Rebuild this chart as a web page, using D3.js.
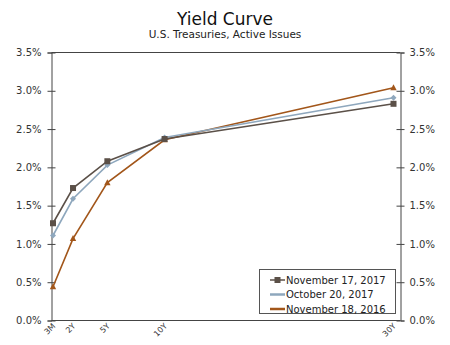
<!DOCTYPE html>
<html>
<head>
<meta charset="utf-8">
<script src="https://cdn.jsdelivr.net/npm/d3@7"></script>
<style>
  html, body { margin: 0; padding: 0; background: #fff; }
  svg { display: block; font-family: Verdana, "DejaVu Sans", sans-serif; }
</style>
</head>
<body>
<svg id="chart" width="450" height="345"></svg>
<script>
// Maturities (years) and their labels
const maturities = [0.25, 2, 5, 10, 30];
const maturityLabels = ["3M", "2Y", "5Y", "10Y", "30Y"];

// Yields in percent
const nov17_2017 = [1.27, 1.73, 2.08, 2.37, 2.83];
const oct20_2017 = [1.11, 1.59, 2.03, 2.39, 2.91];
const nov18_2016 = [0.44, 1.07, 1.80, 2.36, 3.04];

const yTicks = [0, 0.5, 1.0, 1.5, 2.0, 2.5, 3.0, 3.5];

const seriesNames = ["November 17, 2017", "October 20, 2017", "November 18, 2016"];
const seriesColors = ["#5b5048", "#8ea7bd", "#a2561a"];
const seriesMarkers = ["square", "diamond", "triangle"];
const seriesValues = [nov17_2017, oct20_2017, nov18_2016];

const svg = d3.select("#chart");

const frame = { left: 51.5, right: 400.5, top: 52.5, bottom: 320.5 };

const x = d3.scaleLinear().domain([0.25, 30]).range([53, 393.5]);
const y = d3.scaleLinear().domain([0, 3.5]).range([frame.bottom, frame.top]);

// Titles
svg.append("text").attr("x", 225).attr("y", 25).attr("text-anchor", "middle")
  .attr("font-size", 17).attr("fill", "#111").text("Yield Curve");
svg.append("text").attr("x", 225).attr("y", 37.5).attr("text-anchor", "middle")
  .attr("font-size", 10.5).attr("fill", "#222").text("U.S. Treasuries, Active Issues");

// Frame
const axisColor = "#444";
svg.append("line").attr("x1", frame.left).attr("x2", frame.right)
  .attr("y1", frame.top).attr("y2", frame.top).attr("stroke", axisColor);
svg.append("line").attr("x1", frame.left).attr("x2", frame.right)
  .attr("y1", frame.bottom).attr("y2", frame.bottom).attr("stroke", axisColor);

// Left and right y axes
const fmt = d => d.toFixed(1) + "%";
const leftAxis = d3.axisLeft(y).tickValues(yTicks).tickFormat(fmt).tickSize(4).tickPadding(6);
const rightAxis = d3.axisRight(y).tickValues(yTicks).tickFormat(fmt).tickSize(4).tickPadding(6);

function styleAxis(g) {
  g.select(".domain").attr("stroke", axisColor);
  g.selectAll(".tick line").attr("stroke", axisColor).attr("x1", -4).attr("x2", 4);
  g.selectAll(".tick text").attr("fill", "#333").attr("font-size", 10)
    .attr("font-family", "Verdana, 'DejaVu Sans', sans-serif");
}
svg.append("g").attr("transform", `translate(${frame.left},0)`).call(leftAxis)
  .call(styleAxis);
svg.append("g").attr("transform", `translate(${frame.right},0)`).call(rightAxis)
  .call(styleAxis)
  .call(g => g.selectAll(".tick text").attr("x", 9));

// Bottom maturity labels, rotated
const bottom = svg.append("g");
maturities.forEach((m, i) => {
  const px = x(m) + 3;
  bottom.append("text")
    .attr("transform", `translate(${px},${frame.bottom + 6}) rotate(-45)`)
    .attr("text-anchor", "end")
    .attr("font-size", 8)
    .attr("fill", "#333")
    .text(maturityLabels[i]);
});

// Marker drawing
function marker(g, type, color, cx, cy) {
  if (type === "square") {
    g.append("rect").attr("x", cx - 3).attr("y", cy - 3).attr("width", 6).attr("height", 6).attr("fill", color);
  } else if (type === "diamond") {
    g.append("path").attr("d", `M${cx},${cy - 3}L${cx + 3},${cy}L${cx},${cy + 3}L${cx - 3},${cy}Z`).attr("fill", color);
  } else {
    g.append("path").attr("d", `M${cx},${cy - 3.5}L${cx + 3.2},${cy + 2.5}L${cx - 3.2},${cy + 2.5}Z`).attr("fill", color);
  }
}

const line = d3.line().x(d => x(d[0])).y(d => y(d[1]));

// Draw series (oldest first so newer lines sit on top)
[2, 1, 0].forEach(s => {
  const pts = maturities.map((m, i) => [m, seriesValues[s][i]]);
  const g = svg.append("g");
  g.append("path").datum(pts).attr("d", line).attr("fill", "none")
    .attr("stroke", seriesColors[s]).attr("stroke-width", 1.6);
  pts.forEach(p => marker(g, seriesMarkers[s], seriesColors[s], x(p[0]), y(p[1])));
});

// Legend
const lg = svg.append("g");
lg.append("rect").attr("x", 259.5).attr("y", 269.5).attr("width", 136).attr("height", 44)
  .attr("fill", "#fff").attr("stroke", "#555");
seriesNames.forEach((name, i) => {
  const ly = 280 + i * 14.5;
  lg.append("line").attr("x1", 270).attr("x2", 285).attr("y1", ly).attr("y2", ly)
    .attr("stroke", seriesColors[i]).attr("stroke-width", i === 0 ? 1.5 : 2.5);
  if (i === 0) marker(lg, "square", seriesColors[i], 277.5, ly);
  lg.append("text").attr("x", 286).attr("y", ly + 3.5).attr("font-size", 10)
    .attr("fill", "#222").text(name);
});
</script>
</body>
</html>
